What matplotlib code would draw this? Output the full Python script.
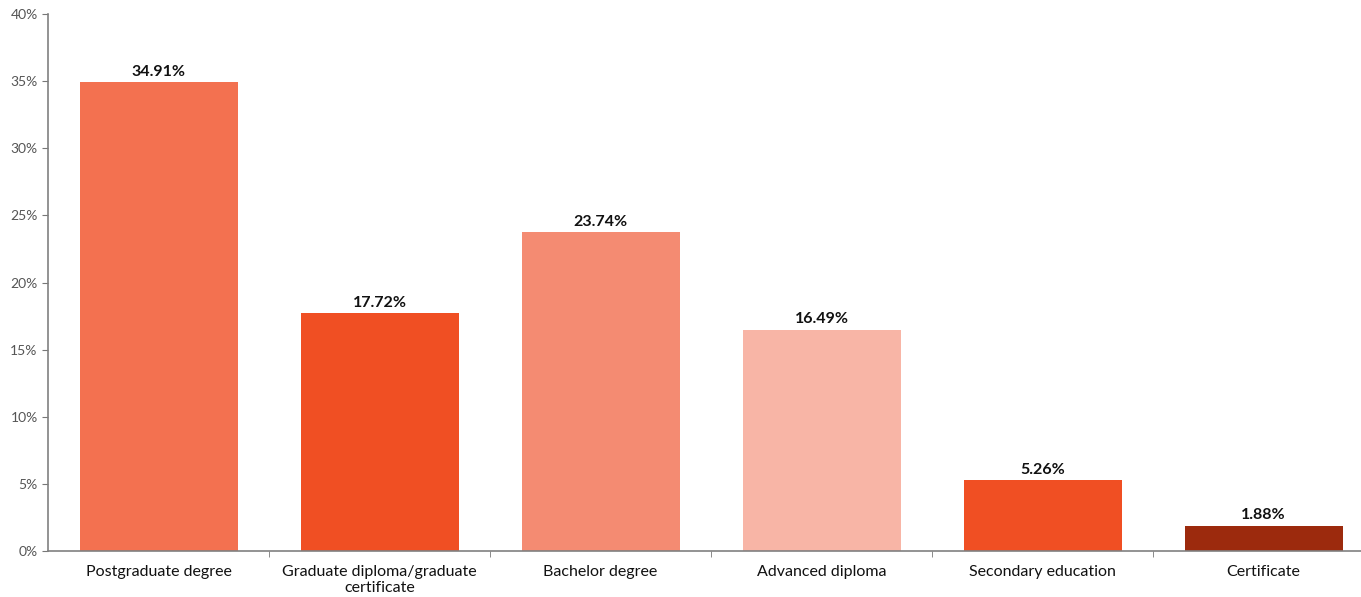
import matplotlib
matplotlib.use("Agg")
import matplotlib.pyplot as plt
from matplotlib.ticker import FuncFormatter, FixedLocator

categories = ["Postgraduate degree", "Graduate diploma/graduate\ncertificate",
              "Bachelor degree", "Advanced diploma", "Secondary education", "Certificate"]
values = [34.91, 17.72, 23.74, 16.49, 5.26, 1.88]
colors = ["#F37150", "#F04F23", "#F48B72", "#F8B5A6", "#F04F23", "#9C2A0D"]
y_ticks = [0, 5, 10, 15, 20, 25, 30, 35, 40]

plt.rcParams["font.family"] = ["Lato", "DejaVu Sans"]

fig = plt.figure(figsize=(13.61, 5.97), dpi=100)
# the plot area runs slightly past the right edge of the canvas
ax = fig.add_axes([0.0353, 0.077, 0.9743, 0.8995])

x = list(range(len(categories)))
ax.bar(x, values, width=0.715, color=colors, zorder=2)

for xi, v in zip(x, values):
    ax.text(xi, v + 0.25, f"{v:.2f}%", ha="center", va="bottom",
            fontsize=11.5, fontweight="bold", color="#111111")

ax.set_xlim(-0.5, len(categories) - 0.5)
ax.set_ylim(0, 40)
ax.set_yticks(y_ticks)
ax.yaxis.set_major_formatter(FuncFormatter(lambda v, p: f"{v:.0f}%"))
ax.tick_params(axis="y", labelsize=10, labelcolor="#555555", color="#777777",
               length=4, direction="out")

ax.set_xticks(x)
ax.set_xticklabels(categories, fontsize=11.5, color="#111111")
ax.tick_params(axis="x", length=0, pad=10)
ax.xaxis.set_minor_locator(FixedLocator([i + 0.5 for i in range(len(categories) - 1)]))
ax.tick_params(axis="x", which="minor", length=4, color="#777777", direction="out")

for s in ["top", "right"]:
    ax.spines[s].set_visible(False)
for s in ["left", "bottom"]:
    ax.spines[s].set_color("#808080")
    ax.spines[s].set_linewidth(1.2)

fig.savefig("out.png", dpi=100)
